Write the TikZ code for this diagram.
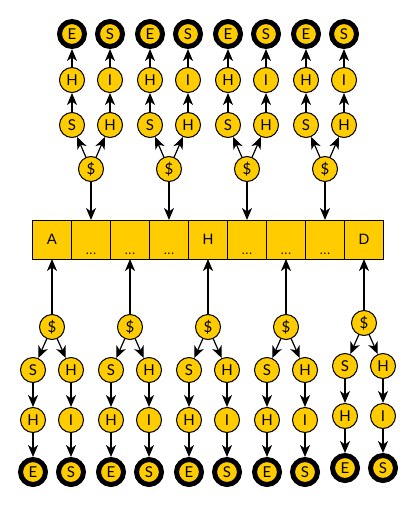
\documentclass[tikz,border=0pt]{standalone}
\usepackage{fontspec}
\setmainfont{Lato}
\newfontfamily\cellfont{Liberation Sans}
\usepackage[HTML]{xcolor}
\usepackage{tikz}
\usetikzlibrary{positioning, arrows.meta}
\definecolor{gold}{HTML}{FFCC00}

\tikzset{
  state/.style={circle, draw, fill=gold, line width=1pt, minimum size=25pt, inner sep=0pt, font=\fontsize{15}{15}\selectfont},
  accept/.style={state, line width=5pt},
  cell/.style={rectangle, draw, fill=gold, line width=1pt, minimum width=39pt, minimum height=39pt, inner sep=0pt, outer sep=0pt, font=\cellfont\fontsize{15}{15}\selectfont},
  dots/.style={label={[anchor=base, yshift=5pt, inner sep=0pt, font=\cellfont\fontsize{13}{13}\selectfont]south:...}},
  link/.style={-{Stealth[length=12pt,width=10pt,inset=3.5pt]}, line width=1.2pt}
}

\begin{document}
\begin{tikzpicture}[x=1pt,y=-1pt]
\useasboundingbox (0,0) rectangle (415,506);
% array
\node[cell] (k1) at (52,239.5) {A};
\node[cell, dots, right=0pt of k1] (k2) {};
\node[cell, dots, right=0pt of k2] (k3) {};
\node[cell, dots, right=0pt of k3] (k4) {};
\node[cell, right=0pt of k4] (k5) {H};
\node[cell, dots, right=0pt of k5] (k6) {};
\node[cell, dots, right=0pt of k6] (k7) {};
\node[cell, dots, right=0pt of k7] (k8) {};
\node[cell, right=0pt of k8] (k9) {D};
% upper trees
\foreach \x/\n/\c in {91/ua/k2, 169/ub/k4, 247/uc/k6, 325/ud/k8} {
  \node[state] (\n0) at (\x,169) {\$};
  \node[state] (\n1) at (\x-19,125) {S};
  \node[state] (\n2) at (\x+19,125) {H};
  \node[state] (\n3) at (\x-19,80) {H};
  \node[state] (\n4) at (\x+19,80) {I};
  \node[accept] (\n5) at (\x-19,34) {E};
  \node[accept] (\n6) at (\x+19,34) {S};
  \draw[link] (\n0) -- (\n1);
  \draw[link] (\n0) -- (\n2);
  \draw[link] (\n1) -- (\n3);
  \draw[link] (\n2) -- (\n4);
  \draw[link] (\n3) -- (\n5);
  \draw[link] (\n4) -- (\n6);
  \draw[link] (\n0) -- (\c);
}
% lower trees
\foreach \x/\dy/\n/\c in {52/0/la/k1, 130/0/lb/k3, 208/0/lc/k5, 286/0/ld/k7, 364/-4/le/k9} {
  \node[state] (\n0) at (\x,327+\dy) {\$};
  \node[state] (\n1) at (\x-19,370+\dy) {S};
  \node[state] (\n2) at (\x+19,370+\dy) {H};
  \node[state] (\n3) at (\x-19,420+\dy) {H};
  \node[state] (\n4) at (\x+19,420+\dy) {I};
  \node[accept] (\n5) at (\x-19,472+\dy) {E};
  \node[accept] (\n6) at (\x+19,472+\dy) {S};
  \draw[link] (\n0) -- (\n1);
  \draw[link] (\n0) -- (\n2);
  \draw[link] (\n1) -- (\n3);
  \draw[link] (\n2) -- (\n4);
  \draw[link] (\n3) -- (\n5);
  \draw[link] (\n4) -- (\n6);
  \draw[link] (\n0) -- (\c);
}
\end{tikzpicture}
\end{document}
